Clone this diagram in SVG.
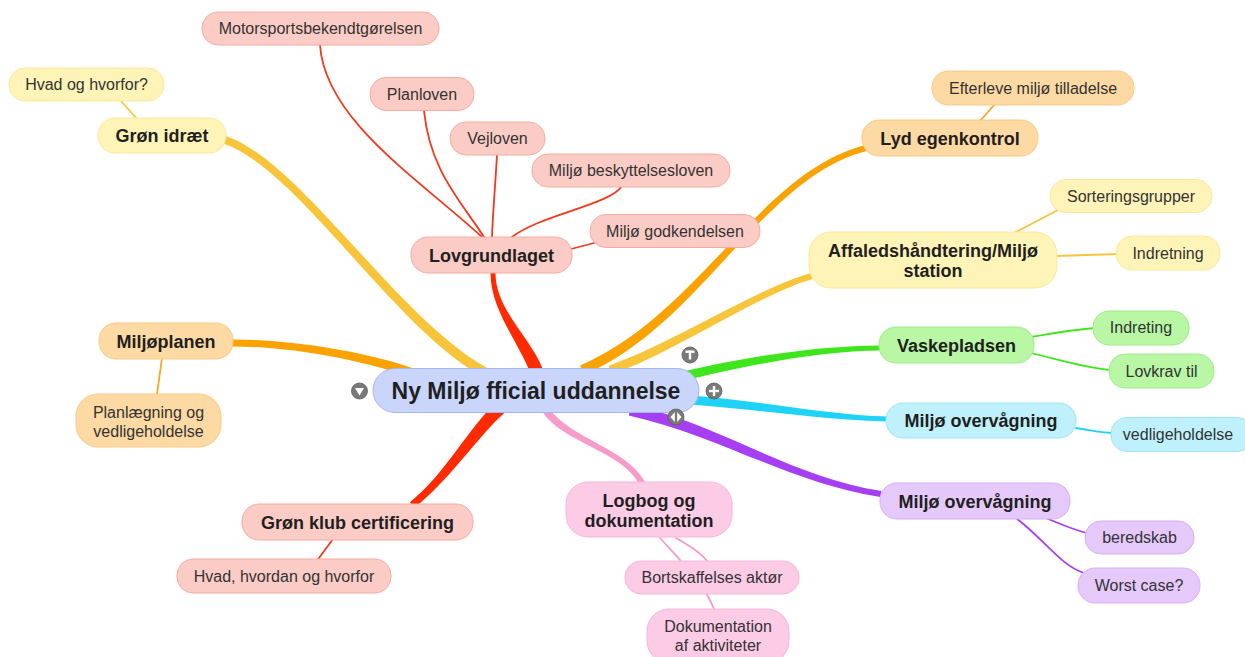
<svg xmlns="http://www.w3.org/2000/svg" width="1245" height="657" viewBox="0 0 1245 657">
<style>
text{font-family:"Liberation Sans",Arial,Helvetica,sans-serif;fill:#1f1f1f;text-anchor:middle}
.b{font-weight:bold;font-size:18px}
.c{font-weight:bold;font-size:23px}
.r{font-size:16px;fill:#333}
rect{stroke-width:1}
.ye rect{fill:#fff4b8;stroke:#fbe89c}
.sa rect{fill:#fbccc5;stroke:#f5aca2}
.or rect{fill:#fdd9a3;stroke:#fbc987}
.gr rect{fill:#b9f7a4;stroke:#9fec8a}
.cy rect{fill:#bff1fc;stroke:#9fe5f6}
.pu rect{fill:#e6c9fb;stroke:#d6aff6}
.pi rect{fill:#fccbe6;stroke:#f8b6d8}
.ce rect{fill:#c9d5fb;stroke:#a6b7f0}
.t{fill:none;stroke-width:1.8;stroke-linecap:round}
.icon circle{fill:#7a7a7a;stroke:#5e5e5e;stroke-width:0.8}
</style>
<rect width="1245" height="657" fill="#ffffff"/>

<g id="connectors">
  <!-- main branches (tapered) -->
  <path fill="#f8c53a" d="M492.2,370.5 C402.2,325.5 301.3,161.2 226.3,136.2 L223.7,143.8 C298.7,168.8 397.8,334.5 487.8,379.5 Z"/>
  <path fill="#f9a200" d="M411.5,367.7 C361.5,350.7 290,339.5 232,339.5 L232,346.5 C290,346.5 358.5,359.3 408.5,376.3 Z"/>
  <path fill="#ff2a00" d="M543.1,369.7 C531.1,337.7 495.5,310 495.5,273 L490.5,273 C490.5,310 518.9,342.3 530.9,374.3 Z"/>
  <path fill="#ff2a00" d="M495.7,403.1 C470.7,425.1 442.9,477.2 409.9,502.2 L414.1,507.8 C447.1,482.8 479.3,434.9 504.3,412.9 Z"/>
  <path fill="#f9a200" d="M583.9,374.6 C701.9,324.6 760.7,177.9 866.7,150.9 L865.3,145.1 C759.3,172.1 698.1,315.4 580.1,365.4 Z"/>
  <path fill="#f8c53a" d="M611.4,374.3 C671.4,354.3 760.8,292.9 812.8,278.9 L811.2,273.1 C759.2,287.1 668.6,345.7 608.6,365.7 Z"/>
  <path fill="#3fe61c" d="M681.1,381.4 C741.1,366.4 820,350.5 881,350.5 L881,345.5 C820,345.5 738.9,357.6 678.9,372.6 Z"/>
  <path fill="#1fd3f6" d="M689.7,404.5 C759.7,409.5 830,420.5 888,421.5 L888,416.5 C830,415.5 760.3,400.5 690.3,395.5 Z"/>
  <path fill="#a63ff2" d="M628.8,415.4 C718.8,435.4 789.5,483 880.5,497 L881.5,491 C790.5,477 721.2,424.6 631.2,404.6 Z"/>
  <path fill="#f79bcb" d="M542.6,412.1 C561.6,442.1 622.3,451.4 639.3,484.4 L644.7,481.6 C627.7,448.6 568.4,437.9 549.4,407.9 Z"/>

  <!-- sub branches -->
  <path class="t" stroke="#f2391c" d="M320,45 C325,120 420,180 482,237"/>
  <path class="t" stroke="#f2391c" d="M424,111 C430,170 460,200 484,237"/>
  <path class="t" stroke="#f2391c" d="M497,155 C495,190 493,210 492,237"/>
  <path class="t" stroke="#f2391c" d="M622,186 C610,205 540,215 512,237"/>
  <path class="t" stroke="#f2391c" d="M571,249 L594,243"/>
  <path class="t" stroke="#f2391c" d="M333,539 L316,562"/>
  <path class="t" stroke="#f5c53c" d="M121,101 L137,119"/>
  <path class="t" stroke="#f5c53c" d="M1012,234 L1058,210"/>
  <path class="t" stroke="#f5c53c" d="M1056,256 L1118,254"/>
  <path class="t" stroke="#f5a623" d="M980,121 L995,104"/>
  <path class="t" stroke="#f5a623" d="M162,358 L157,394"/>
  <path class="t" stroke="#3fe61c" d="M1031,337 C1060,332 1070,330 1095,328"/>
  <path class="t" stroke="#3fe61c" d="M1031,353 C1060,360 1090,369 1111,370"/>
  <path class="t" stroke="#1fd3f6" d="M1076,428 C1090,430 1100,433 1112,433"/>
  <path class="t" stroke="#a63ff2" d="M1046,518 C1060,524 1075,530 1087,533"/>
  <path class="t" stroke="#a63ff2" d="M1016,518 C1045,540 1060,565 1084,573"/>
  <path class="t" stroke="#f79bcb" d="M676,538 C688,545 700,552 707,561"/>
  <path class="t" stroke="#f79bcb" d="M660,538 C680,560 705,585 714,609"/>
</g>

<g id="n-center" class="ce">
  <rect x="373" y="368.5" width="326" height="44" rx="22"/>
  <text class="c" x="536" y="399">Ny Miljø fficial uddannelse</text>
</g>

<g id="n-gron-idraet" class="ye">
  <rect x="98" y="118" width="128" height="35" rx="17"/>
  <text class="b" x="162" y="142">Grøn idræt</text>
</g>
<g id="n-hvad-og-hvorfor" class="ye">
  <rect x="9" y="68" width="155" height="33" rx="16"/>
  <text class="r" x="86.5" y="90">Hvad og hvorfor?</text>
</g>

<g id="n-lovgrundlaget" class="sa">
  <rect x="411" y="237" width="161" height="36" rx="17"/>
  <text class="b" x="491.5" y="261.5">Lovgrundlaget</text>
</g>
<g id="n-motorsport" class="sa">
  <rect x="202" y="12" width="237" height="33" rx="16"/>
  <text class="r" x="320.5" y="34">Motorsportsbekendtgørelsen</text>
</g>
<g id="n-planloven" class="sa">
  <rect x="370" y="77.5" width="104" height="33" rx="16"/>
  <text class="r" x="422" y="99.5">Planloven</text>
</g>
<g id="n-vejloven" class="sa">
  <rect x="450" y="122" width="95" height="33" rx="16"/>
  <text class="r" x="497.5" y="144">Vejloven</text>
</g>
<g id="n-miljo-besk" class="sa">
  <rect x="532" y="154" width="198" height="33" rx="16"/>
  <text class="r" x="631" y="176">Miljø beskyttelsesloven</text>
</g>
<g id="n-miljo-godk" class="sa">
  <rect x="590" y="214.5" width="170" height="33" rx="16"/>
  <text class="r" x="675" y="236.5">Miljø godkendelsen</text>
</g>

<g id="n-lyd" class="or">
  <rect x="862" y="120" width="176" height="36" rx="17"/>
  <text class="b" x="950" y="144.5">Lyd egenkontrol</text>
</g>
<g id="n-efterleve" class="or">
  <rect x="932" y="71" width="202" height="34" rx="16"/>
  <text class="r" x="1033" y="93.5">Efterleve miljø tilladelse</text>
</g>

<g id="n-affald" class="ye">
  <rect x="809" y="232" width="248" height="56" rx="22"/>
  <text class="b" x="933" y="256.5">Affaledshåndtering/Miljø</text>
  <text class="b" x="933" y="276.5">station</text>
</g>
<g id="n-sortering" class="ye">
  <rect x="1050" y="179.5" width="162" height="33" rx="16"/>
  <text class="r" x="1131" y="201.5">Sorteringsgrupper</text>
</g>
<g id="n-indretning" class="ye">
  <rect x="1116" y="236" width="104" height="34" rx="16"/>
  <text class="r" x="1168" y="258.5">Indretning</text>
</g>

<g id="n-miljoplanen" class="or">
  <rect x="99" y="323" width="134" height="36" rx="17"/>
  <text class="b" x="166" y="347.5">Miljøplanen</text>
</g>
<g id="n-planlaegning" class="or">
  <rect x="76" y="394" width="145" height="53" rx="22"/>
  <text class="r" x="148.5" y="417.5">Planlægning og</text>
  <text class="r" x="148.5" y="436.5">vedligeholdelse</text>
</g>

<g id="n-gron-klub" class="sa">
  <rect x="242" y="504" width="231" height="36" rx="17"/>
  <text class="b" x="357.5" y="528.5">Grøn klub certificering</text>
</g>
<g id="n-hvad-hvordan" class="sa">
  <rect x="177" y="559" width="214" height="34" rx="16"/>
  <text class="r" x="284" y="581.5">Hvad, hvordan og hvorfor</text>
</g>

<g id="n-logbog" class="pi">
  <rect x="566" y="482" width="166" height="55" rx="22"/>
  <text class="b" x="649" y="506.5">Logbog og</text>
  <text class="b" x="649" y="526.5">dokumentation</text>
</g>
<g id="n-bortskaffelse" class="pi">
  <rect x="625" y="561" width="174" height="33" rx="16"/>
  <text class="r" x="712" y="583">Bortskaffelses aktør</text>
</g>
<g id="n-dokumentation" class="pi">
  <rect x="647" y="609" width="142" height="54" rx="22"/>
  <text class="r" x="718" y="631.5">Dokumentation</text>
  <text class="r" x="718" y="650.5">af aktiviteter</text>
</g>

<g id="n-vaskepladsen" class="gr">
  <rect x="879" y="327" width="155" height="36" rx="17"/>
  <text class="b" x="956.5" y="351.5">Vaskepladsen</text>
</g>
<g id="n-indreting" class="gr">
  <rect x="1093" y="311" width="96" height="34" rx="16"/>
  <text class="r" x="1141" y="333">Indreting</text>
</g>
<g id="n-lovkrav" class="gr">
  <rect x="1109" y="354" width="105" height="34" rx="16"/>
  <text class="r" x="1161.5" y="376.5">Lovkrav til</text>
</g>

<g id="n-overvaagning-cyan" class="cy">
  <rect x="886" y="403" width="190" height="35" rx="17"/>
  <text class="b" x="981" y="427">Miljø overvågning</text>
</g>
<g id="n-vedligeholdelse" class="cy">
  <rect x="1111" y="417.5" width="142" height="34" rx="16"/>
  <text class="r" x="1178" y="440">vedligeholdelse</text>
</g>

<g id="n-overvaagning-purple" class="pu">
  <rect x="880" y="483" width="190" height="36" rx="17"/>
  <text class="b" x="975" y="507.5">Miljø overvågning</text>
</g>
<g id="n-beredskab" class="pu">
  <rect x="1085" y="521" width="109" height="33" rx="16"/>
  <text class="r" x="1139.5" y="543">beredskab</text>
</g>
<g id="n-worst" class="pu">
  <rect x="1078" y="568" width="122" height="35" rx="17"/>
  <text class="r" x="1139" y="591">Worst case?</text>
</g>

<g id="icons" class="icon">
  <g id="icon-collapse">
    <circle cx="359.5" cy="391" r="8"/>
    <polygon points="355,388 364,388 359.5,395.5" fill="#ffffff"/>
  </g>
  <g id="icon-t">
    <circle cx="690" cy="355" r="8"/>
    <rect x="685.5" y="350.5" width="9" height="2.4" fill="#ffffff"/>
    <rect x="688.8" y="350.5" width="2.4" height="9" fill="#ffffff"/>
  </g>
  <g id="icon-plus">
    <circle cx="714" cy="391" r="8"/>
    <rect x="709" y="389.8" width="10" height="2.4" fill="#ffffff"/>
    <rect x="712.8" y="386" width="2.4" height="10" fill="#ffffff"/>
  </g>
  <g id="icon-lr">
    <circle cx="676" cy="417" r="8"/>
    <polygon points="674.8,412 674.8,422 670.5,417" fill="#ffffff"/>
    <polygon points="677.2,412 677.2,422 681.5,417" fill="#ffffff"/>
  </g>
</g>
</svg>
